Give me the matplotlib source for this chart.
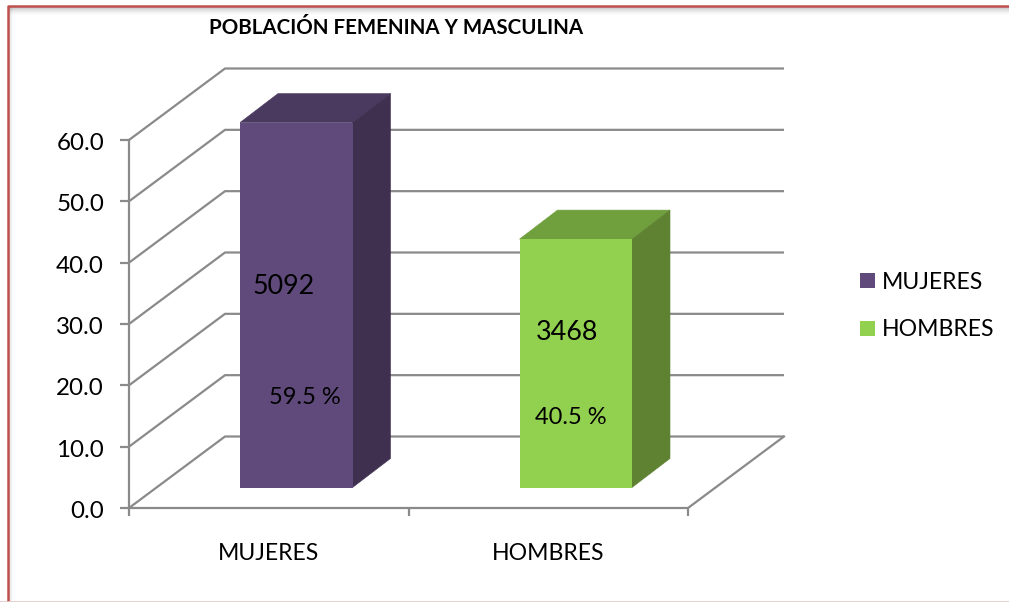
import matplotlib
matplotlib.use("Agg")
import matplotlib.pyplot as plt
from matplotlib.patches import Polygon, Patch, Rectangle
from matplotlib.lines import Line2D
from matplotlib.transforms import ScaledTranslation

plt.rcParams['font.family'] = ['Lato', 'DejaVu Sans']

TITLE = "POBLACIÓN FEMENINA Y MASCULINA"
categories = ["MUJERES", "HOMBRES"]
percent = [59.5, 40.5]
counts = [5092, 3468]
pct_labels = ["59.5 %", "40.5 %"]
yticks = [0, 10, 20, 30, 40, 50, 60]
ytick_labels = ["0.0", "10.0", "20.0", "30.0", "40.0", "50.0", "60.0"]
front_colors = ["#604a7b", "#92d050"]
top_colors = ["#4b3a60", "#70a03e"]
side_colors = ["#3f3050", "#5f8232"]

W, H = 1009, 602
fig = plt.figure(figsize=(W / 100, H / 100), dpi=100, facecolor="white")

# chart frame
for i, a in enumerate([.22, .18, .14, .11, .08, .05, .03, .015]):
    fig.add_artist(Rectangle((9 / W, 1 - (8 + i) / H), 1, 1 / H, transform=fig.transFigure,
                             fc="black", ec="none", alpha=a))
for i, a in enumerate([.12, .08, .05, .02]):
    fig.add_artist(Rectangle(((9 + i) / W, 0), 1 / W, 1 - 7 / H, transform=fig.transFigure,
                             fc="black", ec="none", alpha=a))
fig.add_artist(Line2D([7.5 / W, 7.5 / W, 1], [0, 1 - 6 / H, 1 - 6 / H], transform=fig.transFigure,
                      color="#c0504d", lw=1.8))
fig.add_artist(Line2D([0, 1], [0.5 / H, 0.5 / H], transform=fig.transFigure, color="#e6c8c8", lw=1.2))

ax = fig.add_axes([129 / W, (H - 508) / H, 559 / W, 368 / H])
ax.set_xlim(0, 2)
ax.set_ylim(0, 60)
ax.set_facecolor("none")
for s in ax.spines.values():
    s.set_visible(False)

# depth of the 3-D box in data units
PX = 279.5          # pixels per category
PY = 368 / 60       # pixels per percent
DX = 96 / PX
DY = 71.5 / PY
GRID = "#8a8a8a"
LW = 1.6

for v in yticks:
    ax.plot([0, DX, 2 + DX], [v, v + DY, v + DY], color=GRID, lw=LW,
            clip_on=False, zorder=1, solid_capstyle="butt")
ax.plot([0, 2, 2 + DX], [0, 0, DY], color=GRID, lw=LW, clip_on=False, zorder=1)
ax.plot([0, 0], [0, 60], color=GRID, lw=LW, clip_on=False, zorder=1)

ax.set_xticks([0, 1, 2])
ax.set_xticklabels([])
ax.set_yticks(yticks)
ax.set_yticklabels(ytick_labels, fontsize=17.4, color="black")
ax.tick_params(axis="y", length=6.5, width=LW, color=GRID, pad=11.5, left=True)
ax.tick_params(axis="x", length=6, width=LW, color=GRID)
shift = ScaledTranslation(0, -1.5 / 100, fig.dpi_scale_trans)
for lab in ax.get_yticklabels():
    lab.set_transform(lab.get_transform() + shift)
for i, c in enumerate(categories):
    ax.annotate(c, (i + 0.5, 0), xytext=(0, -46), textcoords="offset pixels", ha="center", va="center",
                fontsize=16.6, color="black", xycoords="data")

# bars
OFFX = 27.5 / PX
OFFY = 20.5 / PY
BAR_W = 112.5 / PX
dx, dy = 38 / PX, 29 / PY
for i, v in enumerate(percent):
    xc = i + 0.5 + OFFX
    x0, x1 = xc - BAR_W / 2, xc + BAR_W / 2
    y0 = OFFY
    y1 = y0 + v
    ax.add_patch(Polygon([(x0, y1), (x1, y1), (x1 + dx, y1 + dy), (x0 + dx, y1 + dy)],
                         fc=top_colors[i], ec=top_colors[i], lw=0.4, zorder=3, clip_on=False))
    ax.add_patch(Polygon([(x1, y0), (x1 + dx, y0 + dy), (x1 + dx, y1 + dy), (x1, y1)],
                         fc=side_colors[i], ec=side_colors[i], lw=0.4, zorder=3, clip_on=False))
    ax.add_patch(Rectangle((x0, y0), x1 - x0, v, fc=front_colors[i], ec="none",
                           zorder=4, clip_on=False))

fig.text(252.5 / W, 1 - 286 / H, str(counts[0]), fontsize=19.4, va="center", zorder=6)
fig.text(567 / W, 1 - 332.5 / H, str(counts[1]), fontsize=19.4, va="center", ha="center", zorder=6)
fig.text(305 / W, 1 - 397.5 / H, pct_labels[0], fontsize=17, va="center", ha="center", zorder=6)
fig.text(571 / W, 1 - 418 / H, pct_labels[1], fontsize=17, va="center", ha="center", zorder=6)

fig.text(396.5 / W, 1 - 27.5 / H, TITLE, fontsize=14.8, fontweight="bold", ha="center", va="center")

handles = [Patch(fc=c, ec="none") for c in front_colors]
fig.legend(handles, categories, loc="center left", bbox_to_anchor=(851 / W, 1 - 306 / H),
           frameon=False, fontsize=16.6, handlelength=0.65, handleheight=0.65,
           handletextpad=0.3, labelspacing=1.17, borderpad=0.4, borderaxespad=0)

fig.savefig("out.png", dpi=100)
